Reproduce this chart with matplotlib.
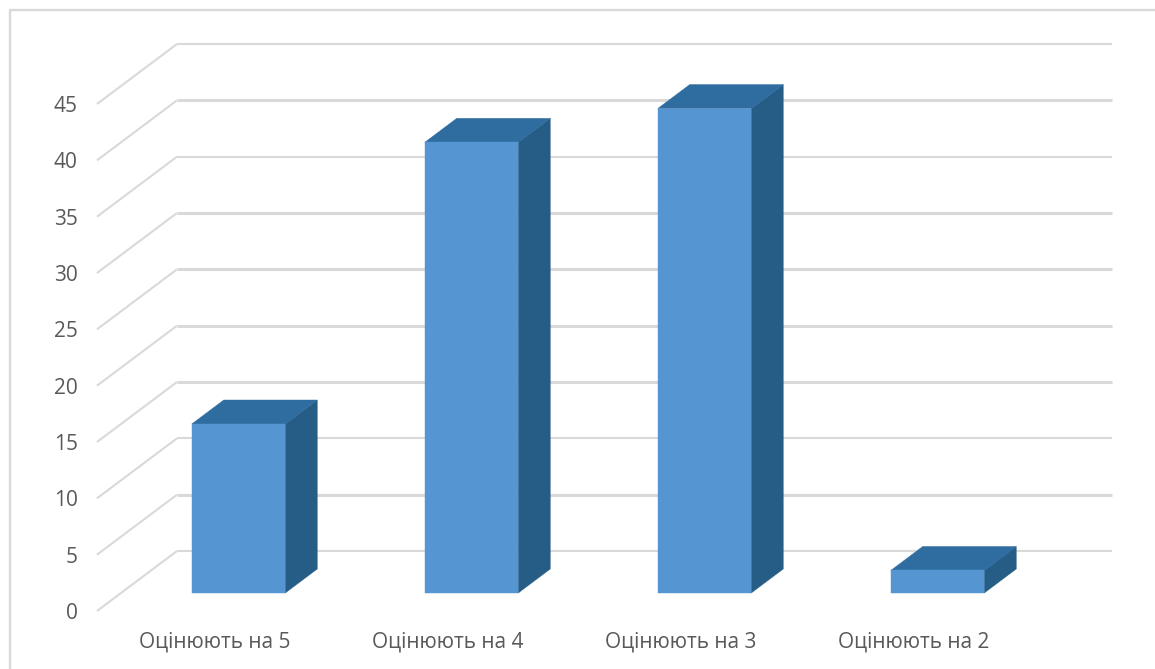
import matplotlib
matplotlib.use("Agg")
import matplotlib.pyplot as plt
from matplotlib.lines import Line2D
from matplotlib.patches import Polygon

categories = ["Оцінюють на 5", "Оцінюють на 4", "Оцінюють на 3", "Оцінюють на 2"]
values = [15, 40, 43, 2]
y_ticks = [0, 5, 10, 15, 20, 25, 30, 35, 40, 45]
thick_levels = [5, 15, 20, 25, 30, 40]

W, H = 1155, 669
plt.rcParams['font.family'] = ['Open Sans', 'DejaVu Sans']
fig = plt.figure(figsize=(W / 100, H / 100), dpi=100, facecolor='white')

# front plane of the oblique 3-D box
L, R, B, T = 98, 1030, 611, 104
ax = fig.add_axes([L / W, 1 - B / H, (R - L) / W, (B - T) / H])
ax.set_xlim(-0.5, 3.5)
ax.set_ylim(0, 45)
for s in ax.spines.values():
    s.set_visible(False)
ax.patch.set_alpha(0)

px_x = 4 / (R - L)
px_y = 45 / (B - T)
DX, DY = 80 * px_x, 60 * px_y          # full depth of the floor
BAR_W = 93.5 * px_x
D0, D1 = 0.30, 0.70                    # bar depth range

GRID = '#d9d9d9'
x_start = -0.5 - 1 * px_x
x_corner = x_start + DX
x_end = 3.5 + 82 * px_x
for v in y_ticks:
    ax.plot([x_start, x_corner], [v, v + DY], color=GRID, lw=1.5,
            clip_on=False, zorder=1, solid_capstyle='butt')
    ax.plot([x_corner, x_end], [v + DY, v + DY], color=GRID,
            lw=2.2 if v in thick_levels else 1.5,
            clip_on=False, zorder=1, solid_capstyle='butt')

FRONT, TOP, SIDE = '#5596D2', '#2F6DA0', '#255D86'
for i, v in enumerate(values):
    x0, x1 = i - BAR_W / 2 + D0 * DX, i + BAR_W / 2 + D0 * DX
    y0, y1 = D0 * DY, v + D0 * DY
    ddx, ddy = (D1 - D0) * DX, (D1 - D0) * DY
    ax.add_patch(Polygon([(x1, y0), (x1 + ddx, y0 + ddy), (x1 + ddx, y1 + ddy), (x1, y1)],
                         fc=SIDE, ec=SIDE, lw=0.3, clip_on=False, zorder=3))
    ax.add_patch(Polygon([(x0, y1), (x1, y1), (x1 + ddx, y1 + ddy), (x0 + ddx, y1 + ddy)],
                         fc=TOP, ec=TOP, lw=0.3, clip_on=False, zorder=3))
    ax.add_patch(Polygon([(x0, y0), (x1, y0), (x1, y1), (x0, y1)],
                         fc=FRONT, ec=FRONT, lw=0.3, clip_on=False, zorder=4))

ax.set_xticks(range(len(categories)))
ax.set_xticklabels(categories)
ax.set_yticks(y_ticks)
ax.tick_params(axis='both', length=0, labelcolor='#595959', labelsize=15)
ax.tick_params(axis='x', pad=15)
ax.tick_params(axis='y', pad=14.5)

# chart-area frame: left and top edges
fig.add_artist(Line2D([9.5 / W, 9.5 / W, 1], [0, 1 - 9.5 / H, 1 - 9.5 / H],
                      color='#d9d9d9', lw=1.7, transform=fig.transFigure))

fig.savefig('out.png', dpi=100, facecolor='white')
